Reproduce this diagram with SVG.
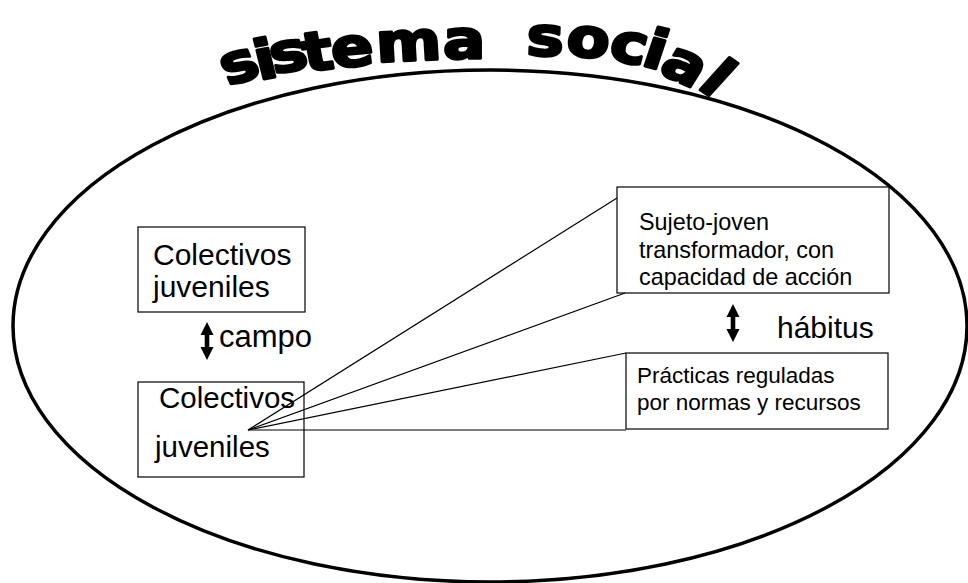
<svg xmlns="http://www.w3.org/2000/svg" width="968" height="583" viewBox="0 0 968 583">
  <style>
    .box { fill: none; stroke: #000000; stroke-width: 1.2; }
    .lbl { font-family: "Liberation Sans", Arial, sans-serif; fill: #000000; }
    .conn { stroke: #000000; stroke-width: 1.2; fill: none; }
    .title { font-family: "DejaVu Sans", "Liberation Sans", sans-serif; font-weight: bold; font-size: 54px; fill: #000000; stroke: #000000; stroke-width: 2.8; stroke-linejoin: round; }
  </style>
  <defs>
    <path id="dblArrow" d="M0,0 L6.5,13 L2.3,13 L2.3,25 L6.5,25 L0,38 L-6.5,25 L-2.3,25 L-2.3,13 L-6.5,13 Z" fill="#000000"/>
  </defs>
  <rect width="968" height="583" fill="#ffffff"/>

  <g id="sistema-social">
    <ellipse cx="490" cy="326" rx="477" ry="256" fill="none" stroke="#000000" stroke-width="3.5"/>
    <text class="title" transform="scale(1.16,1)" x="196.6 223.3 236.2 263.8 287.1 325 381.9 431 453.4 487.1 523.3 551.7 566.4 600" y="86 80 74 72 68 62 58 56 55 55 59 65 72 87" rotate="-20 -12 -12 -9 -6 -3 0 0 2 6 12 16 28 38">sistema social</text>
  </g>

  <g id="colectivos-1">
    <rect class="box" x="138" y="227" width="167" height="85"/>
    <text class="lbl" font-size="30"><tspan x="153" y="265">Colectivos</tspan><tspan x="153" y="297">juveniles</tspan></text>
  </g>

  <g id="colectivos-2">
    <rect class="box" x="138" y="382" width="166" height="95"/>
    <text class="lbl" font-size="29.5"><tspan x="159" y="408">Colectivos</tspan><tspan x="155" y="457">juveniles</tspan></text>
  </g>

  <g id="sujeto-joven">
    <rect class="box" x="617" y="187" width="272" height="106"/>
    <text class="lbl" font-size="23.4"><tspan x="639" y="230">Sujeto-joven</tspan><tspan x="639" y="258">transformador, con</tspan><tspan x="639" y="285">capacidad de acción</tspan></text>
  </g>

  <g id="practicas">
    <rect class="box" x="626" y="353" width="262" height="76"/>
    <text class="lbl" font-size="22.5"><tspan x="637" y="383">Prácticas reguladas</tspan><tspan x="637" y="410">por normas y recursos</tspan></text>
  </g>

  <g id="connectors">
    <line class="conn" x1="248" y1="430" x2="617" y2="198"/>
    <line class="conn" x1="248" y1="430" x2="625" y2="293"/>
    <line class="conn" x1="248" y1="430" x2="626" y2="353"/>
    <line class="conn" x1="248" y1="430" x2="626" y2="430"/>
    <use href="#dblArrow" transform="translate(207,322)"/>
    <use href="#dblArrow" transform="translate(733,304)"/>
    <text class="lbl" x="219" y="347" font-size="31">campo</text>
    <text class="lbl" x="777" y="338" font-size="30">hábitus</text>
  </g>
</svg>
